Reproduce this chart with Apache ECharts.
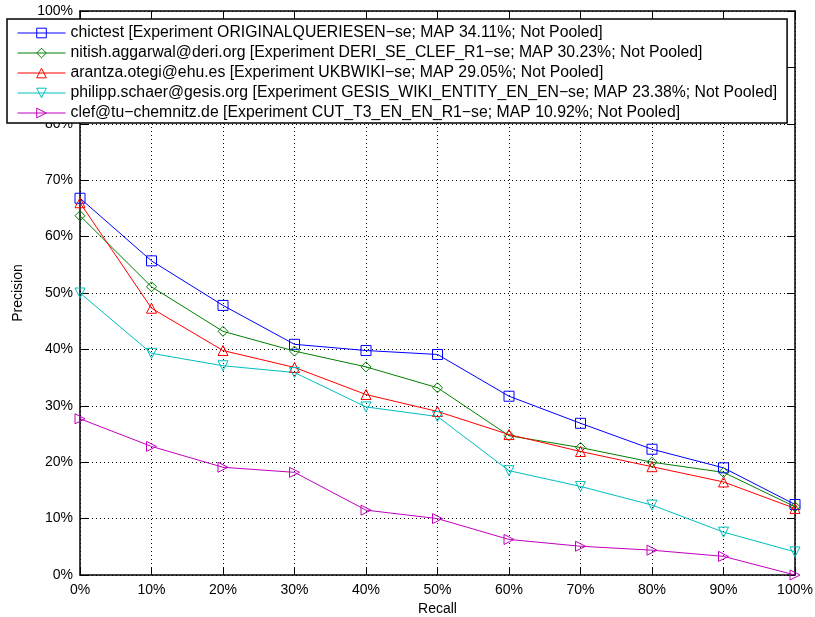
<!DOCTYPE html>
<html>
<head>
<meta charset="utf-8">
<script src="https://cdn.jsdelivr.net/npm/echarts@6/dist/echarts.min.js"></script>
<style>
  html, body { margin: 0; padding: 0; background: #fff; }
  #chart { width: 815px; height: 617px; }
</style>
</head>
<body>
<div id="chart"></div>
<script>
// Recall levels (percent) and interpolated precision per run
const recallLevels = [0, 10, 20, 30, 40, 50, 60, 70, 80, 90, 100];
const tickLabels = ['0%', '10%', '20%', '30%', '40%', '50%', '60%', '70%', '80%', '90%', '100%'];

const runNames = [
  'chictest [Experiment ORIGINALQUERIESEN\u2212se; MAP 34.11%; Not Pooled]',
  'nitish.aggarwal@deri.org [Experiment DERI_SE_CLEF_R1\u2212se; MAP 30.23%; Not Pooled]',
  'arantza.otegi@ehu.es [Experiment UKBWIKI\u2212se; MAP 29.05%; Not Pooled]',
  'philipp.schaer@gesis.org [Experiment GESIS_WIKI_ENTITY_EN_EN\u2212se; MAP 23.38%; Not Pooled]',
  'clef@tu\u2212chemnitz.de [Experiment CUT_T3_EN_EN_R1\u2212se; MAP 10.92%; Not Pooled]'
];

const chictest   = [66.8, 55.7, 47.8, 40.9, 39.8, 39.1, 31.7, 26.9, 22.3, 19.0, 12.5];
const aggarwal   = [63.7, 51.1, 43.2, 39.7, 36.9, 33.2, 24.7, 22.6, 20.0, 18.2, 12.1];
const otegi      = [66.0, 47.3, 39.8, 36.8, 32.0, 29.0, 24.9, 21.9, 19.2, 16.5, 11.8];
const schaer     = [50.0, 39.3, 37.1, 35.9, 29.8, 28.1, 18.5, 15.7, 12.4, 7.6, 4.1];
const chemnitz   = [27.7, 22.8, 19.1, 18.2, 11.5, 10.0, 6.3, 5.1, 4.4, 3.3, 0.0];

const runValues = [chictest, aggarwal, otegi, schaer, chemnitz];
const runColors = ['#0000ff', '#008000', '#ff0000', '#00bfbf', '#bf00bf'];
const runSymbols = [
  'rect',
  'diamond',
  'triangle',
  'path://M0,0 L10,0 L5,9 Z',
  'path://M0,0 L9,5 L0,10 Z'
];

const FONT = '"Liberation Sans", Arial, Helvetica, sans-serif';

const series = runValues.map((vals, i) => ({
  name: runNames[i],
  type: 'line',
  xAxisIndex: 0,
  yAxisIndex: 0,
  data: recallLevels.map((r, j) => [r, vals[j]]),
  symbol: runSymbols[i],
  symbolSize: 10,
  showAllSymbol: true,
  lineStyle: { color: runColors[i], width: 1 },
  itemStyle: { color: 'rgba(0,0,0,0)', borderColor: runColors[i], borderWidth: 1 },
  emphasis: { disabled: true },
  animation: false,
  z: 5
}));

const pctLabel = v => v + '%';

const chart = echarts.init(document.getElementById('chart'), null, { renderer: 'canvas' });
chart.setOption({
  backgroundColor: '#ffffff',
  animation: false,
  textStyle: { fontFamily: FONT },
  grid: { left: 80, right: 20, top: 11, bottom: 42, containLabel: false, outerBoundsMode: 'none' },
  legend: {
    orient: 'vertical',
    left: 7,
    top: 19,
    padding: [6, 10, 2, 10],
    itemWidth: 48,
    itemHeight: 12,
    itemGap: 4,
    backgroundColor: '#ffffff',
    borderColor: '#000000',
    borderWidth: 1.5,
    itemStyle: { borderWidth: 1 },
    lineStyle: { width: 1 },
    textStyle: { fontFamily: FONT, fontSize: 15.8, color: '#000' },
    data: runNames,
    z: 10
  },
  xAxis: [
    {
      type: 'value', min: 0, max: 100, interval: 10, position: 'bottom',
      name: 'Recall', nameLocation: 'middle', nameGap: 27,
      nameTextStyle: { fontFamily: FONT, fontSize: 14, color: '#000' },
      axisLine: { show: true, onZero: false, lineStyle: { color: '#000', width: 1.5 } },
      axisTick: { show: true, inside: true, length: 8, lineStyle: { color: '#000' } },
      axisLabel: { show: true, color: '#000', fontFamily: FONT, fontSize: 14, margin: 8, formatter: v => tickLabels[recallLevels.indexOf(v)] },
      splitLine: { show: true, lineStyle: { color: '#000', type: [1, 3], width: 1 } }
    },
    {
      type: 'value', min: 0, max: 100, interval: 10, position: 'top',
      axisLine: { show: true, onZero: false, lineStyle: { color: '#000', width: 1.5 } },
      axisTick: { show: true, inside: true, length: 8, lineStyle: { color: '#000' } },
      axisLabel: { show: false },
      splitLine: { show: false }
    }
  ],
  yAxis: [
    {
      type: 'value', min: 0, max: 100, interval: 10, position: 'left',
      name: 'Precision', nameLocation: 'middle', nameGap: 55, nameRotate: 90,
      nameTextStyle: { fontFamily: FONT, fontSize: 14, color: '#000' },
      axisLine: { show: true, onZero: false, lineStyle: { color: '#000', width: 1.5 } },
      axisTick: { show: true, inside: true, length: 8, lineStyle: { color: '#000' } },
      axisLabel: { show: true, color: '#000', fontFamily: FONT, fontSize: 14, margin: 7, formatter: pctLabel },
      splitLine: { show: true, lineStyle: { color: '#000', type: [1, 3], width: 1 } }
    },
    {
      type: 'value', min: 0, max: 100, interval: 10, position: 'right',
      axisLine: { show: true, onZero: false, lineStyle: { color: '#000', width: 1.5 } },
      axisTick: { show: true, inside: true, length: 8, lineStyle: { color: '#000' } },
      axisLabel: { show: false },
      splitLine: { show: false }
    }
  ],
  series: series
});
</script>
</body>
</html>
